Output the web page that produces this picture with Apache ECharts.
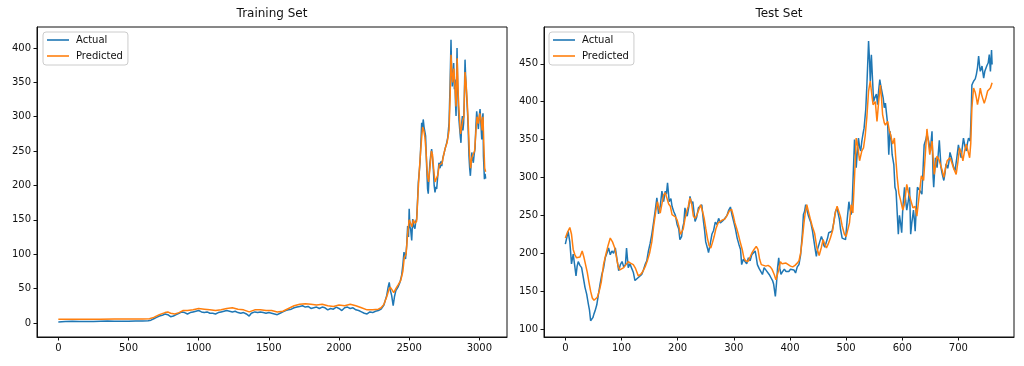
<!DOCTYPE html>
<html><head><meta charset="utf-8">
<script src="https://cdn.jsdelivr.net/npm/echarts@6/dist/echarts.min.js"></script>
<style>html,body{margin:0;padding:0;background:#fff}#c{width:1024px;height:366px}</style>
</head><body><div id="c"></div><script>
// ---------- Training set ----------
const trainActualX = [0,50,100,150,200,250,300,350,400,450,500,550,600,640,660,680,700,720,740,760,780,800,820,840,860,880,900,920,940,960,980,1000,1020,1040,1060,1080,1100,1120,1140,1160,1180,1200,1220,1240,1260,1280,1300,1320,1340,1360,1375,1400,1420,1440,1460,1480,1500,1520,1540,1560,1580,1600,1620,1640,1660,1680,1700,1720,1740,1760,1780,1800,1820,1840,1860,1880,1900,1920,1940,1960,1980,2000,2020,2040,2060,2080,2100,2120,2140,2160,2180,2200,2220,2240,2260,2280,2300,2320,2340,2350,2358,2365,2375,2386,2395,2405,2420,2434,2446,2455,2463,2474,2482,2489,2495,2500,2505,2510,2518,2525,2533,2541,2547,2553,2560,2565,2570,2577,2583,2589,2594,2600,2606,2612,2617,2624,2631,2636,2642,2648,2654,2660,2666,2672,2678,2684,2690,2696,2704,2712,2720,2726,2732,2740,2750,2758,2767,2775,2784,2791,2798,2802,2807,2812,2817,2822,2826,2830,2834,2838,2841,2845,2850,2855,2860,2865,2869,2874,2879,2883,2888,2893,2898,2902,2907,2912,2917,2922,2926,2931,2936,2941,2946,2951,2957,2963,2969,2975,2981,2987,2993,2999,3005,3011,3017,3023,3026,3029,3033,3036,3041,3045];
const trainActual = [1.5,2.0,2.3,2.0,2.2,2.0,2.4,2.6,2.5,2.4,2.3,2.6,2.8,3.0,4,6,8,10,11,13,12,9,10,12,14,16,15,13,15,16,17,18,16,15,16,14,14,13,15,16,17,18,17,16,17,15,14,15,13,10,14,16,15,16,15,14,15,14,13,12,14,16,18,19,20,22,23,24,25,23,24,21,22,23,21,23,22,19,21,20,23,21,18,22,23,21,22,19,18,16,14,13,16,15,17,18,20,26,40,52,59,48,40,25,38,47,52,59,69,85,103,93,112,141,125,166,140,137,120,151,140,137,148,151,180,204,215,233,260,291,280,296,285,286,272,230,195,188,215,233,245,253,240,224,200,190,198,195,215,233,225,235,228,240,248,255,262,270,291,344,412,370,344,360,378,340,354,320,301,360,400,350,315,295,282,270,262,290,301,280,291,330,383,360,340,320,301,270,243,225,214,230,248,240,233,245,253,285,308,295,282,300,311,290,267,300,305,243,225,209,217,210];
const trainPredX = [0,100,200,300,400,500,600,650,680,720,760,780,800,830,860,890,920,960,1000,1040,1080,1120,1160,1200,1240,1280,1320,1360,1400,1440,1480,1520,1560,1600,1640,1680,1720,1760,1800,1840,1880,1920,1960,2000,2040,2080,2120,2160,2200,2240,2280,2300,2320,2340,2355,2365,2378,2390,2405,2420,2440,2455,2465,2478,2489,2500,2510,2520,2530,2541,2553,2562,2570,2580,2589,2596,2604,2612,2620,2630,2638,2648,2658,2666,2674,2684,2694,2704,2714,2724,2734,2746,2758,2770,2784,2792,2798,2804,2810,2818,2826,2834,2842,2850,2858,2866,2874,2882,2890,2898,2905,2914,2922,2930,2938,2946,2956,2966,2976,2984,2993,3003,3012,3020,3026,3032,3038,3045];
const trainPred = [5.5,5.5,5.5,5.5,5.6,5.6,5.8,6,8,12,15,16,14,13,15,18,18,19,21,20,19,18,19,21,22,20,19,16,19,19,18,18,16,17,21,25,27,28,27,26,27,25,24,26,25,27,25,22,19,19,20,22,27,38,48,52,48,44,50,55,62,75,95,100,130,150,145,140,150,145,148,185,215,245,270,285,280,270,250,215,205,225,250,245,225,205,205,215,230,230,232,245,255,262,280,330,390,365,350,370,345,315,385,330,300,275,285,295,300,365,350,320,285,245,225,240,245,250,280,300,290,305,295,280,300,260,225,220];
const trainXTicks = [0,500,1000,1500,2000,2500,3000];
const trainYTicks = [0,50,100,150,200,250,300,350,400];

// ---------- Test set ----------
const testActualX = [0,3,5,8,11,14,17,19,21,23,26,29,32,35,38,41,43,45,47,49,51,53,56,59,62,65,68,71,74,77,80,83,86,89,92,95,98,101,104,107,109,112,115,118,121,124,127,130,133,136,139,142,145,148,151,154,157,160,163,166,169,172,175,178,180,182,185,188,190,193,196,199,202,204,207,209,211,213,215,217,220,222,225,227,229,231,234,237,240,243,246,248,250,253,255,258,261,264,267,270,273,276,279,282,285,288,291,294,297,300,303,306,309,312,314,317,320,323,326,329,332,335,338,340,342,345,348,351,354,357,360,363,366,369,371,374,376,378,380,382,384,387,390,393,396,398,401,404,407,410,413,416,419,422,424,426,428,431,433,435,437,440,442,445,447,449,451,453,456,458,460,462,465,467,469,472,475,478,481,484,486,488,490,493,496,499,502,505,507,509,511,513,515,517,518,520,522,524,526,528,530,532,535,537,539,540,542,543,545,547,549,551,554,556,558,560,562,564,566,568,570,572,574,576,578,580,582,585,587,589,591,593,595,597,599,601,604,606,608,611,613,615,617,620,622,623,625,627,630,632,635,637,639,642,644,647,650,653,655,656,659,662,664,666,669,671,674,676,678,681,683,685,688,690,692,694,697,700,702,705,707,709,712,714,716,718,721,723,724,727,730,732,734,736,738,739,742,745,747,749,751,753,755,757,759,760];
const testActual = [212,222,229,215,186,199,182,170,183,189,184,181,168,155,146,133,125,111,113,115,120,124,132,146,160,172,180,194,200,207,198,203,200,207,192,177,185,189,182,185,207,181,186,185,175,164,165,168,166,172,178,185,190,203,213,225,240,256,273,252,262,282,268,282,278,293,268,272,262,255,250,238,232,218,222,234,240,260,252,249,262,275,265,268,255,242,248,260,258,264,242,230,215,207,201,212,225,230,241,238,246,240,241,244,246,250,257,261,250,241,232,220,212,205,185,192,189,186,194,190,198,196,203,195,185,180,176,172,181,178,176,172,168,164,159,143,160,181,194,180,172,176,179,176,178,176,179,177,178,174,182,185,198,225,251,255,264,255,249,245,241,230,220,205,196,205,207,215,222,218,211,208,207,220,227,226,229,240,255,260,252,245,232,220,222,218,245,268,258,251,270,310,350,330,313,335,352,340,335,348,357,365,390,422,460,480,450,427,462,430,400,405,410,396,415,429,420,418,405,392,398,400,370,330,361,352,330,317,287,282,283,225,250,240,227,260,287,270,257,270,287,225,240,257,240,229,260,287,285,282,278,310,343,350,357,348,335,361,300,287,326,313,330,349,313,305,296,305,318,312,320,333,325,318,312,309,325,343,335,326,340,352,340,335,345,352,348,390,422,427,430,436,445,460,445,440,447,431,440,444,448,451,462,440,468,449];
const testPredX = [0,4,8,11,14,17,20,23,26,30,33,36,39,42,45,48,51,54,57,61,64,68,72,76,80,84,88,91,94,97,100,104,108,112,116,121,125,130,134,138,142,146,150,154,157,161,164,167,169,172,175,178,181,184,187,190,193,196,199,202,205,207,210,213,216,219,222,225,228,231,234,238,241,244,247,250,253,256,259,262,265,268,272,276,280,284,288,292,296,299,302,305,308,311,315,318,321,325,329,332,336,340,343,346,349,353,357,361,365,368,372,375,378,380,383,386,389,393,397,401,405,409,413,416,419,422,425,427,430,433,436,440,444,448,452,456,459,462,465,468,472,476,480,484,487,490,493,497,500,503,506,509,512,515,518,521,524,528,531,534,537,540,543,546,548,552,555,558,561,563,565,568,570,574,577,579,583,586,588,591,594,597,601,604,608,611,614,619,623,626,628,631,634,638,641,644,646,649,653,657,660,662,665,668,671,674,677,680,685,688,691,696,699,702,705,708,711,714,717,720,722,724,727,730,732,734,737,739,741,743,746,749,752,755,757,760];
const testPred = [220,228,234,225,205,198,194,192,195,203,195,185,175,162,150,141,138,137,142,152,162,185,198,210,220,215,207,195,183,178,178,181,185,189,187,185,180,170,172,176,182,190,200,215,234,255,268,258,253,265,277,280,282,265,262,251,250,248,244,236,225,223,232,245,255,262,273,265,249,246,250,258,264,256,247,233,220,210,207,214,222,232,240,242,244,245,250,256,258,250,240,233,225,216,205,194,190,189,195,200,205,209,205,192,185,184,183,184,182,179,172,165,163,178,189,186,185,187,185,183,182,184,187,190,200,218,240,252,264,255,246,235,226,207,197,208,218,212,207,212,220,230,251,262,262,248,236,225,222,220,240,264,253,300,352,340,322,335,339,355,380,414,427,408,396,400,374,400,422,405,383,372,369,374,362,357,344,352,330,300,279,270,257,265,291,280,273,260,262,249,262,282,302,296,330,364,350,330,348,304,320,328,324,322,310,300,312,322,326,320,313,304,320,339,333,322,335,344,335,326,345,392,418,412,405,396,408,418,410,405,398,405,414,416,418,425];
const testXTicks = [0,100,200,300,400,500,600,700];
const testYTicks = [100,150,200,250,300,350,400,450];

const zip = (xs, ys) => xs.map((x, i) => [x, ys[i]]);
const BLUE = '#1f77b4', ORANGE = '#ff7f0e', INK = '#111';
const FONT = 'DejaVu Sans';

function valAxis(gridIndex, min, max, ticks) {
  return {
    type: 'value', gridIndex, min, max, scale: true,
    splitLine: { show: false },
    axisLine: { show: true, onZero: false, lineStyle: { color: INK, width: 1 } },
    axisTick: { show: true, length: 3.5, customValues: ticks, lineStyle: { color: INK, width: 1 } },
    axisLabel: { customValues: ticks, margin: 6, fontSize: 10, color: INK, fontFamily: FONT,
      formatter: v => String(v) }
  };
}
function legend(left) {
  return {
    left, top: 32, orient: 'vertical', icon: 'rect', itemWidth: 22, itemHeight: 1.6,
    itemGap: 4, padding: [2, 5, 3, 4], borderColor: '#cccccc', borderWidth: 1, borderRadius: 3,
    backgroundColor: 'rgba(255,255,255,0.8)', itemStyle: { borderWidth: 0 },
    textStyle: { fontSize: 10, color: INK, fontFamily: FONT, lineHeight: 12, padding: [0, 0, 0, 2] },
    data: ['Actual', 'Predicted']
  };
}
function line(name, data, color, xi) {
  return { type: 'line', name, data, xAxisIndex: xi, yAxisIndex: xi, showSymbol: false, symbol: 'none',
    lineStyle: { color, width: 1.5 }, itemStyle: { color }, emphasis: { disabled: true } };
}

const chart = echarts.init(document.getElementById('c'), null, { renderer: 'canvas' });
chart.setOption({
  animation: false,
  backgroundColor: '#ffffff',
  textStyle: { fontFamily: FONT },
  title: [
    { text: 'Training Set', left: 272, top: 8, textAlign: 'center', padding: 0, textStyle: { fontSize: 12, fontWeight: 'normal', color: INK, fontFamily: FONT } },
    { text: 'Test Set', left: 779, top: 8, textAlign: 'center', padding: 0, textStyle: { fontSize: 12, fontWeight: 'normal', color: INK, fontFamily: FONT } }
  ],
  legend: [legend(43), legend(549)],
  grid: [
    { left: 37, top: 27, width: 470, height: 310, show: true, borderColor: INK, borderWidth: 1, backgroundColor: 'transparent' },
    { left: 544, top: 27, width: 470, height: 310, show: true, borderColor: INK, borderWidth: 1, backgroundColor: 'transparent' }
  ],
  xAxis: [valAxis(0, -152, 3197, trainXTicks), valAxis(1, -38, 799, testXTicks)],
  yAxis: [valAxis(0, -20.5, 430.5, trainYTicks), valAxis(1, 89.5, 498.5, testYTicks)],
  series: [
    line('Actual', zip(trainActualX, trainActual), BLUE, 0),
    line('Predicted', zip(trainPredX, trainPred), ORANGE, 0),
    line('Actual', zip(testActualX, testActual), BLUE, 1),
    line('Predicted', zip(testPredX, testPred), ORANGE, 1)
  ]
});
</script></body></html>
